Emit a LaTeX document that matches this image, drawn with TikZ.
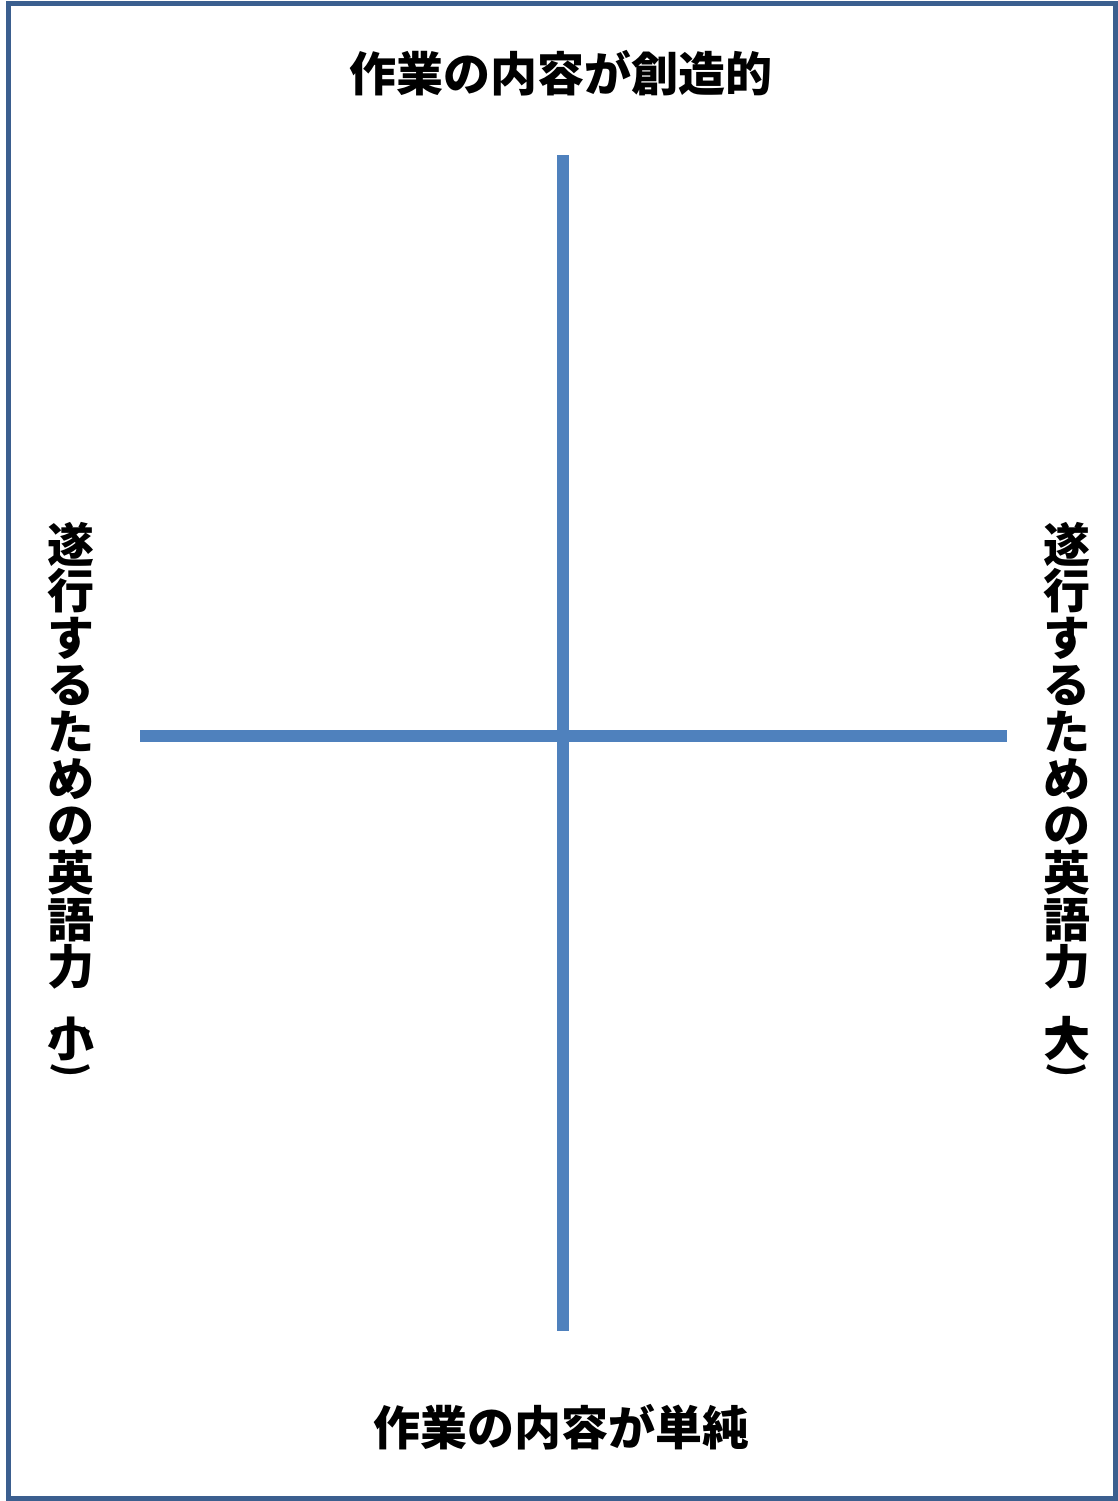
\documentclass[tikz,border=0pt]{standalone}
\usepackage{fontspec}
\newfontfamily\jp{Noto Sans CJK JP}
\definecolor{frameblue}{HTML}{3B5F8F}
\definecolor{axisblue}{HTML}{4F81BD}
\begin{document}
\begin{tikzpicture}[x=0.5pt,y=-0.5pt,
  lbl/.style={font=\jp\bfseries\fontsize{23.5pt}{28pt}\selectfont, inner sep=0pt, text=black},
  vch/.style={font=\jp\bfseries\fontsize{23.5pt}{28pt}\selectfont, inner sep=0pt, text=black},
  par/.style={font=\jp\bfseries\fontsize{19pt}{22pt}\selectfont, inner sep=0pt, text=black, rotate=-90},
  axis/.style={draw=axisblue, line width=5.6pt},
  frame/.style={draw=frameblue, line width=2.6pt}]
\useasboundingbox (0,0) rectangle (1118,1501);
\fill[white] (0,0) rectangle (1118,1501);
\draw[frame] (8.5,3.5) rectangle (1115.5,1498.5);
% axes
\coordinate (vtop) at (563,155);
\coordinate (vbot) at (563,1331);
\coordinate (hl) at (140,736);
\coordinate (hr) at (1007,736);
\draw[axis] (vtop) -- (vbot);
\draw[axis] (hl) -- (hr);
% titles
\node[lbl] (top) at (561,73) {作業の内容が創造的};
\node[lbl] (bottom) at (561,1427) {作業の内容が単純};
% vertical labels
\foreach \c [count=\i] in {遂,行,す,る,た,め,の,英,語,力}{
  \node[vch] (l\i) at (71,{544+(\i-1)*47}) {\c};
  \node[vch] (r\i) at (1067,{544+(\i-1)*47}) {\c};
}
\node[vch] (lsmall) at (71,1039) {小};
\node[vch] (rbig) at (1067,1039) {大};
\node[par] (lopen) at (71,1030) {(};
\node[par] (lclose) at (71,1070) {)};
\node[par] (ropen) at (1067,1030) {(};
\node[par] (rclose) at (1067,1070) {)};
\end{tikzpicture}
\end{document}
